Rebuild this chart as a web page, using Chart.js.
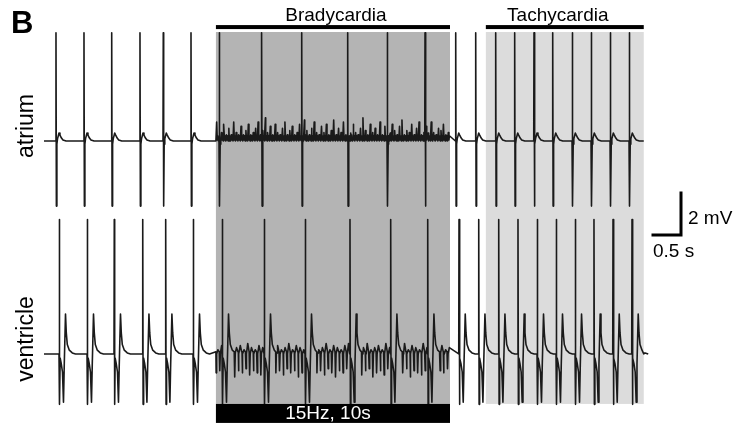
<!DOCTYPE html>
<html>
<head>
<meta charset="utf-8">
<script src="https://cdn.jsdelivr.net/npm/chart.js@4.4.1/dist/chart.umd.min.js"></script>
<style>
  html, body { margin: 0; padding: 0; background: #fff; }
  #wrap { width: 747px; height: 428px; }
</style>
</head>
<body>
<div id="wrap"><canvas id="ecg" width="747" height="428"></canvas></div>
<script>
// time of each stimulus artefact (s)
const atriumBeats = [0.214, 0.714, 1.209, 1.714, 2.130, 2.625, 3.130, 3.888, 4.602, 5.423, 6.130,
    6.804, 7.352, 7.709, 8.066, 8.405, 8.750, 9.084, 9.434, 9.773, 10.113, 10.452];
const ventricleBeats = [0.273, 0.773, 1.255, 1.763, 2.173, 2.666, 3.184, 3.934, 4.666, 5.464, 6.191,
    6.852, 7.411, 7.763, 8.120, 8.464, 8.809, 9.148, 9.488, 9.821, 10.161, 10.500];
const traceStart = 0;
const traceEnd = 10.71;
const bradyWindow = [3.07, 7.25];
const tachyWindow = [7.89, 10.71];
const pacingHz = 15;

// shape of one beat: offset from the artefact (s) and amplitude (mV)
const atriumShapeT = [-0.005, 0, 0.007, 0.016, 0.027, 0.054, 0.071, 0.098, 0.125, 0.18];
const atriumShapeV = [0, 5.15, -3.1, -0.15, 0.1, 0.38, 0.28, 0.14, 0.05, 0];
const ventricleShapeT = [-0.005, 0, 0.007, 0.016, 0.036, 0.057, 0.075, 0.089, 0.111, 0.125, 0.143, 0.179, 0.232, 0.29];
const ventricleShapeV = [0, 6.4, -2.4, -0.2, -0.48, -0.86, -2.3, -0.48, 1.9, 1.0, 0.45, 0.18, 0.05, 0];

// fibrillation-like activity on the atrium while pacing (peak heights, mV)
const atriumNoise = [
    0.9, 1.2, 0.4, 0.8, 0.3, 0.6, 0.3, 0.9, 0.4, 0.3, 0.7, 0.3, 0.5, 0.8, 0.3, 0.4, 0.6, 0.9, 0.3, 0.5,
    1.1, 0.4, 0.7, 0.3, 0.8, 0.4, 0.3, 0.6, 0.9, 0.3, 0.5, 0.7, 0.3, 0.4, 0.8, 0.3, 1.0, 0.5, 0.3, 0.6,
    0.9, 0.4, 0.3, 0.7, 0.4, 0.8, 0.3, 0.5, 1.0, 0.3, 0.6, 0.4, 0.9, 0.3, 0.7, 0.3, 0.8, 0.4, 0.3, 0.6,
    1.1, 0.5, 0.3, 0.8, 0.4, 0.6, 0.3, 0.9, 0.3, 0.7, 0.4, 0.3, 0.8, 0.5, 0.3, 0.7, 1.0, 0.3, 0.5, 0.4,
    0.8, 0.3, 0.6, 0.9, 0.3, 0.4, 0.7, 0.3, 0.9, 0.4, 0.3, 0.6, 0.5, 0.8, 0.3, 0.4
];
// 15 Hz pacing artefacts seen on the ventricle (mV)
const ventricleNoiseDown = [
    0.9, 0.8, 1.0, 0.7, 0.9, 1.1, 0.8, 0.9, 0.7, 1.0, 0.8, 0.9, 1.0, 0.7, 0.8, 1.1, 0.9, 0.8, 1.0, 0.7,
    0.9, 0.8, 1.1, 0.9, 0.7, 1.0, 0.8, 0.9, 0.8, 1.0, 0.7, 0.9, 1.1, 0.8, 0.9, 0.7, 1.0, 0.8, 0.9, 1.0,
    0.8, 0.7, 1.1, 0.9, 0.8, 1.0, 0.7, 0.9, 0.8, 1.0, 0.9, 0.7, 1.1, 0.8, 0.9, 1.0, 0.8, 0.7, 0.9, 1.0,
    0.8, 0.9, 0.7
];
const ventricleNoiseUp = [
    0.2, 0.4, 0.3, 0.5, 0.2, 0.3, 0.4, 0.2, 0.5, 0.3, 0.2, 0.4, 0.3, 0.5, 0.2, 0.3, 0.4, 0.2, 0.3, 0.5,
    0.2, 0.4, 0.3, 0.2, 0.5, 0.3, 0.4, 0.2, 0.3, 0.5, 0.2, 0.4, 0.3, 0.2, 0.4, 0.5, 0.3, 0.2, 0.4, 0.3,
    0.5, 0.2, 0.3, 0.4, 0.2, 0.5, 0.3, 0.2, 0.4, 0.3, 0.5, 0.2, 0.4, 0.3, 0.2, 0.5, 0.3, 0.4, 0.2, 0.3,
    0.4, 0.2, 0.3
];

const ventricleOffset = -10.14; // stacking of the two traces (mV)
const font = "'Liberation Sans', Arial, sans-serif";

function atriumNoisePoints() {
    const step = (bradyWindow[1] - bradyWindow[0]) / atriumNoise.length;
    const pts = [];
    atriumNoise.forEach((h, i) => {
        const t = bradyWindow[0] + i * step;
        pts.push({ x: t, y: 0 });
        pts.push({ x: t + step * 0.3, y: h });
        pts.push({ x: t + step * 0.55, y: 0.05 });
        pts.push({ x: t + step * 0.75, y: 0.25 });
    });
    return pts;
}

function ventricleNoisePoints() {
    const pts = [];
    ventricleNoiseDown.forEach((d, k) => {
        const t = bradyWindow[0] + k / pacingHz;
        pts.push({ x: t, y: 0.1 });
        pts.push({ x: t + 0.004, y: -d });
        pts.push({ x: t + 0.012, y: 0 });
        pts.push({ x: t + 0.035, y: ventricleNoiseUp[k] });
        pts.push({ x: t + 0.06, y: 0.1 });
    });
    return pts;
}

function buildTrace(beats, shapeT, shapeV, noise, guard, offset) {
    const pts = [{ x: traceStart, y: 0 }, { x: traceEnd, y: 0 }];
    beats.forEach(b => {
        shapeT.forEach((dt, i) => pts.push({ x: b + dt, y: shapeV[i] }));
    });
    noise.forEach(p => {
        const clash = beats.some(b => p.x > b - 0.01 && p.x < b + guard);
        if (!clash && p.x < bradyWindow[1]) pts.push(p);
    });
    pts.sort((a, b) => a.x - b.x);
    return pts.map(p => ({ x: p.x, y: p.y + offset }));
}

const atriumData = buildTrace(atriumBeats, atriumShapeT, atriumShapeV, atriumNoisePoints(), 0.02, 0);
const ventricleData = buildTrace(ventricleBeats, ventricleShapeT, ventricleShapeV, ventricleNoisePoints(), 0.2, ventricleOffset);

// shading, bars, labels and scale bar
const overlay = {
    id: 'overlay',
    beforeDatasetsDraw(chart) {
        const { ctx, scales: { x, y } } = chart;
        const top = y.getPixelForValue(5.19);
        const bottom = y.getPixelForValue(-12.52);
        ctx.save();
        ctx.fillStyle = '#b4b4b4';
        ctx.fillRect(x.getPixelForValue(bradyWindow[0]), top,
            x.getPixelForValue(bradyWindow[1]) - x.getPixelForValue(bradyWindow[0]), bottom - top);
        ctx.fillStyle = '#dcdcdc';
        ctx.fillRect(x.getPixelForValue(tachyWindow[0]), top,
            x.getPixelForValue(tachyWindow[1]) - x.getPixelForValue(tachyWindow[0]), bottom - top);
        ctx.restore();
    },
    afterDatasetsDraw(chart) {
        const { ctx, scales: { x, y } } = chart;
        const bx0 = x.getPixelForValue(bradyWindow[0]);
        const bx1 = x.getPixelForValue(bradyWindow[1]);
        const tx0 = x.getPixelForValue(tachyWindow[0]);
        const tx1 = x.getPixelForValue(tachyWindow[1]);
        const barY = y.getPixelForValue(5.52);
        const bottom = y.getPixelForValue(-12.52);
        ctx.save();
        ctx.fillStyle = '#000';
        ctx.fillRect(bx0, barY, bx1 - bx0, 4);
        ctx.fillRect(tx0, barY, tx1 - tx0, 4);
        ctx.fillRect(bx0, bottom, bx1 - bx0, 19);

        ctx.textBaseline = 'alphabetic';
        ctx.font = '19px ' + font;
        ctx.textAlign = 'center';
        ctx.fillText('Bradycardia', (bx0 + bx1) / 2 + 3, 21);
        ctx.fillText('Tachycardia', (tx0 + tx1) / 2 - 7, 21);
        ctx.fillStyle = '#fff';
        ctx.fillText('15Hz, 10s', (bx0 + bx1) / 2 - 5, 419);

        ctx.fillStyle = '#000';
        ctx.font = 'bold 31px ' + font;
        ctx.textAlign = 'left';
        ctx.fillText('B', 11, 33);

        ctx.font = '23px ' + font;
        ctx.textAlign = 'center';
        ctx.save();
        ctx.translate(33, 126);
        ctx.rotate(-Math.PI / 2);
        ctx.fillText('atrium', 0, 0);
        ctx.restore();
        ctx.save();
        ctx.translate(33, 339);
        ctx.rotate(-Math.PI / 2);
        ctx.fillText('ventricle', 0, 0);
        ctx.restore();

        // scale bar: 0.5 s by 2 mV
        const sx = x.getPixelForValue(11.375);
        const sy = y.getPixelForValue(-4.476);
        const w = sx - x.getPixelForValue(11.375 - 0.5);
        const h = y.getPixelForValue(-4.476 + 2) - sy;
        ctx.strokeStyle = '#000';
        ctx.lineWidth = 3;
        ctx.lineCap = 'square';
        ctx.beginPath();
        ctx.moveTo(sx, sy + h);
        ctx.lineTo(sx, sy);
        ctx.lineTo(sx - w, sy);
        ctx.stroke();
        ctx.font = '19px ' + font;
        ctx.textAlign = 'left';
        ctx.fillText('2 mV', sx + 7, sy - 11);
        ctx.fillText('0.5 s', sx - w, sy + 22);
        ctx.restore();
    }
};

const traceStyle = {
    borderColor: '#1a1a1a',
    borderWidth: 1.6,
    borderJoinStyle: 'round',
    pointRadius: 0,
    tension: 0,
    fill: false,
    showLine: true
};

new Chart(document.getElementById('ecg'), {
    type: 'scatter',
    data: {
        datasets: [
            { label: 'atrium', data: atriumData, ...traceStyle },
            { label: 'ventricle', data: ventricleData, ...traceStyle }
        ]
    },
    options: {
        responsive: false,
        devicePixelRatio: 1,
        animation: false,
        events: [],
        layout: { padding: 0 },
        plugins: { legend: { display: false }, tooltip: { enabled: false } },
        scales: {
            x: { type: 'linear', min: -44 / 56, max: 703 / 56, display: false },
            y: { type: 'linear', min: -287 / 21, max: 141 / 21, display: false }
        }
    },
    plugins: [overlay]
});
</script>
</body>
</html>
